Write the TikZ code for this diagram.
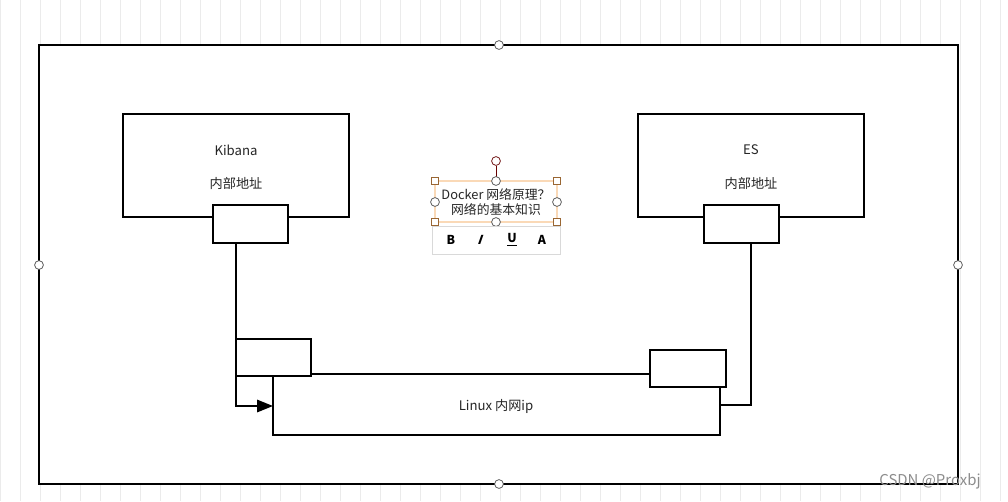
\documentclass[tikz,border=0pt]{standalone}
\usepackage{fontspec}
\setmainfont{Noto Sans CJK SC}
\usetikzlibrary{arrows.meta}
\begin{document}
\begin{tikzpicture}[x=0.02cm,y=-0.02cm,
  box/.style={draw=black,line width=1.1pt,fill=white},
  wire/.style={draw=black,line width=1pt},
  handle/.style={circle,draw=black!70,fill=white,inner sep=0pt,minimum size=5pt,line width=0.4pt},
  sq/.style={draw=brown!80!black,fill=white,inner sep=0pt,minimum size=4pt,line width=0.4pt},
  lbl/.style={font=\fontsize{7.5}{9}\selectfont,text=black!85}]
\useasboundingbox (0,0) rectangle (1008,501);
\fill[white] (0,0) rectangle (1008,501);
\draw[black!8,line width=0.35pt,step=20] (0,0) grid (1008,501);
\draw[box,fill=white] (39,45) rectangle (958,484);
\node[handle] (h1) at (499,45) {};
\node[handle] (h2) at (39,265) {};
\node[handle] (h3) at (958,265) {};
\node[handle] (h4) at (499,484) {};
% Kibana
\draw[box] (123,114) rectangle (349,217);
\node[lbl] (kt) at (236,150) {Kibana};
\node[lbl] (ka) at (236,183) {内部地址};
\draw[box] (213,205) rectangle (288,243);
\coordinate (kb) at (236,243);
% ES
\draw[box] (638,114) rectangle (864,217);
\node[lbl] (et) at (751,150) {ES};
\node[lbl] (ea) at (751,183) {内部地址};
\draw[box] (704,205) rectangle (779,243);
\coordinate (eb) at (751,243);
% Linux
\draw[box] (273,374) rectangle (720,435);
\node[lbl] (lx) at (496,406) {Linux 内网ip};
\draw[box] (236,339) rectangle (311,376);
\draw[box] (650,350) rectangle (726,387);
\coordinate (la) at (273,406);
\coordinate (ra) at (720,405);
\draw[wire,-{Triangle[length=9pt,width=7pt]}] (kb) |- (la);
\draw[wire] (eb) |- (ra);
\draw[wire] (311,374) -- (650,374);
% text box
\draw[brown!25!orange!30,line width=0.6pt] (435,181) rectangle (557,222);
\draw[black!60!red,line width=0.5pt] (496,166) -- (496,181);
\node[handle,draw=black!60!red] (rot) at (496,161) {};
\foreach \p in {(435,181),(557,181),(435,222),(557,222)} \node[sq] at \p {};
\foreach \p in {(496,181),(435,202),(557,202),(496,222)} \node[handle] at \p {};
\node[lbl,align=center,font=\fontsize{7.3}{8.8}\selectfont] (dk) at (496,202) {Docker 网络原理？\\网络的基本知识};
\draw[black!15,fill=white] (432,226) rectangle (560,254);
\node[font=\bfseries\fontsize{7}{8}\selectfont] (tb) at (451,240) {B};
\node[font=\bfseries\fontsize{7}{8}\selectfont,xslant=0.35] (ti) at (481,240) {I};
\node[font=\bfseries\fontsize{7}{8}\selectfont] (tu) at (512,240) {\underline{U}};
\node[font=\bfseries\fontsize{7}{8}\selectfont] (ta) at (542,240) {A};
\node[font=\fontsize{8.5}{10}\selectfont,text=black!45] (wm) at (930,481) {CSDN @Proxbj};
\end{tikzpicture}
\end{document}
